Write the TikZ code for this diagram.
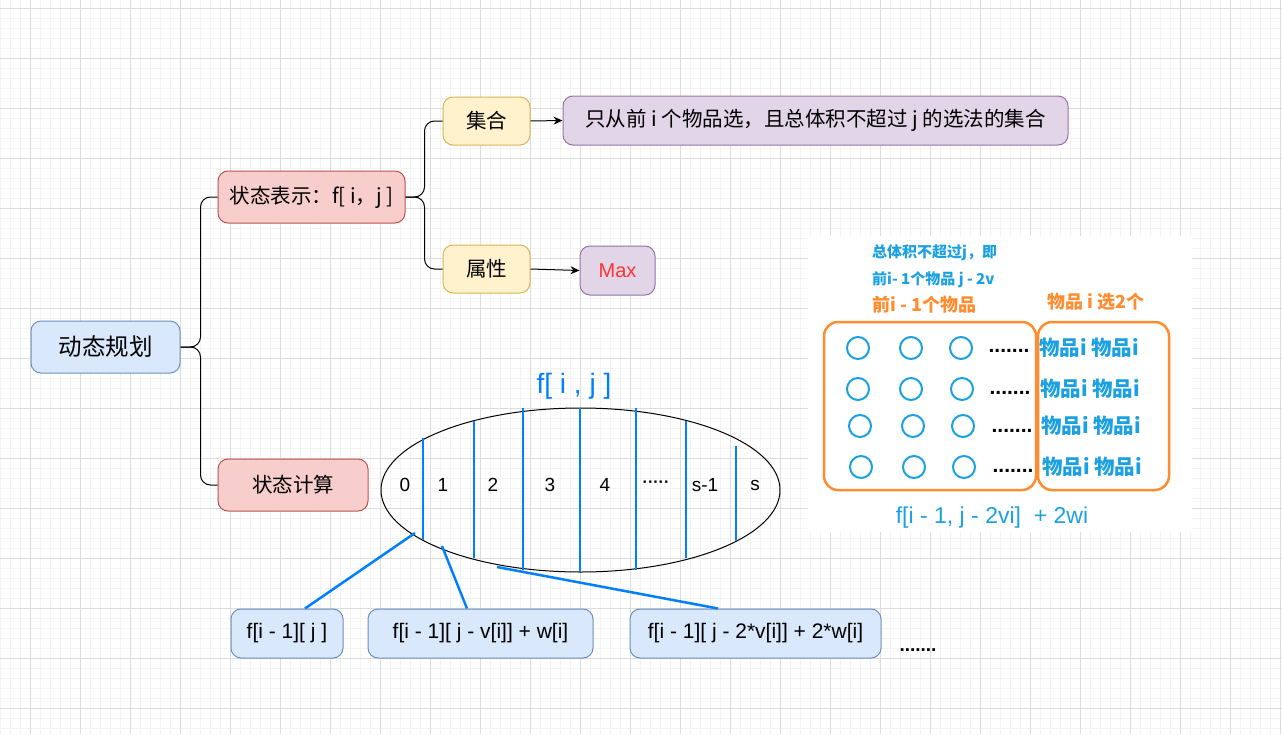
\documentclass[tikz,border=0pt]{standalone}
\usepackage{fontspec}
\setmainfont{Liberation Sans}
\newfontfamily\cjk{Noto Sans CJK SC}
\usetikzlibrary{shapes.geometric,arrows.meta}
\definecolor{bfill}{HTML}{DAE8FC}\definecolor{bstroke}{HTML}{6C8EBF}
\definecolor{rfill}{HTML}{F8CECC}\definecolor{rstroke}{HTML}{B85450}
\definecolor{yfill}{HTML}{FFF2CC}\definecolor{ystroke}{HTML}{D6B656}
\definecolor{pfill}{HTML}{E1D5E7}\definecolor{pstroke}{HTML}{9673A6}
\definecolor{eblue}{HTML}{007FFF}
\definecolor{cblue}{HTML}{1BA1E2}
\definecolor{orng}{HTML}{FF8C2E}
\definecolor{gmin}{HTML}{F3F3F3}
\definecolor{gmaj}{HTML}{DCDCDC}
\definecolor{maxred}{HTML}{FF3333}
\tikzset{
  box/.style={draw, rounded corners=10pt, line width=1pt, inner sep=0pt, align=center, font=\cjk\fontsize{20.5}{24}\selectfont},
  bluebox/.style={box, fill=bfill, draw=bstroke},
  redbox/.style={box, fill=rfill, draw=rstroke},
  yelbox/.style={box, fill=yfill, draw=ystroke},
  purbox/.style={box, fill=pfill, draw=pstroke},
  latin/.style={font=\fontsize{21}{25}\selectfont},
  conn/.style={draw=black, line width=1pt, rounded corners=10pt},
  arr/.style={draw=black, line width=1pt, -{Stealth[length=9pt,width=8pt]}},
  sep/.style={draw=eblue, line width=2.5pt},
  lab/.style={font=\fontsize{19}{22}\selectfont, inner sep=0pt},
  circ/.style={circle, draw=cblue, line width=2pt, minimum size=22pt, inner sep=0pt},
  obox/.style={draw=orng, line width=2.5pt, rounded corners=14pt},
  itm/.style={font=\cjk\bfseries\fontsize{20.5}{23}\selectfont, text=cblue, inner sep=0pt},
  dots/.style={font=\bfseries\fontsize{21}{24}\selectfont, inner sep=0pt},
}
\begin{document}
\begin{tikzpicture}[x=1pt,y=-1pt]
\useasboundingbox (0,0) rectangle (1282,734);
\fill[white] (0,0) rectangle (1282,734);
% grid
\foreach \x in {0,10,...,1280} \draw[gmin, line width=0.8pt] (\x,0) -- (\x,734);
\foreach \y in {8,18,...,734} \draw[gmin, line width=0.8pt] (0,\y) -- (1282,\y);
\foreach \x in {30,80,...,1280} \draw[gmaj, line width=0.8pt] (\x,0) -- (\x,734);
\foreach \y in {8,58,...,734} \draw[gmaj, line width=0.8pt] (0,\y) -- (1282,\y);
% inset panel background
\fill[white] (808,236) rectangle (1192,532);

% mind map
\node[bluebox, minimum width=149pt, minimum height=52pt, font=\cjk\fontsize{23.5}{27}\selectfont] (dt) at (105.5,347) {动态规划};
\node[redbox, minimum width=187pt, minimum height=52pt] (zt) at (311.5,197) {状态表示：f[ i，j ]};
\node[redbox, minimum width=150pt, minimum height=52pt] (js) at (293,485) {状态计算};
\node[yelbox, minimum width=87pt, minimum height=48pt] (jh) at (486.5,121) {集合};
\node[yelbox, minimum width=87pt, minimum height=48pt] (sx) at (486.5,269) {属性};
\node[purbox, minimum width=505pt, minimum height=49pt] (desc) at (815.5,120.5) {只从前 i 个物品选，且总体积不超过 j 的选法的集合};
\node[purbox, minimum width=75pt, minimum height=49pt, text=maxred, font=\fontsize{20}{24}\selectfont] (mx) at (617.5,270.5) {Max};

\draw[conn] (dt.east) -- ++(20,0) |- (zt.west);
\draw[conn] (dt.east) -- ++(20,0) |- (js.west);
\draw[conn] (zt.east) -- ++(19,0) |- (jh.west);
\draw[conn] (zt.east) -- ++(19,0) |- (sx.west);
\draw[arr] (jh.east) -- (desc.west);
\draw[arr] (sx.east) -- (mx.west);

% ellipse
\node[inner sep=0pt, text=eblue, font=\fontsize{28}{32}\selectfont] (ftitle) at (574,386) {f[ i , j ]};
\node[ellipse, draw=black, line width=1pt, minimum width=399pt, minimum height=164pt, inner sep=0pt] (ell) at (580.5,490) {};
\draw[sep] (423,438) -- (423,540);
\draw[sep] (474,421) -- (474,558);
\draw[sep] (523,408) -- (523,570);
\draw[sep] (580,408) -- (580,572);
\draw[sep] (636,408) -- (636,570);
\draw[sep] (686,421) -- (686,558);
\draw[sep] (736,446) -- (736,541);
\node[lab] (c0) at (405,485) {0};
\node[lab] (c1) at (443,485) {1};
\node[lab] (c2) at (493,485) {2};
\node[lab] (c3) at (550,485) {3};
\node[lab] (c4) at (605,485) {4};
\node[lab, font=\bfseries\fontsize{16}{19}\selectfont] (c5) at (656,484) {·····};
\node[lab] (c6) at (705,485) {s-1};
\node[lab] (c7) at (755,485) {s};

% bottom nodes
\node[bluebox, latin, minimum width=112pt, minimum height=49pt] (b1) at (287,633.5) {f[i - 1][ j ]};
\node[bluebox, latin, minimum width=225pt, minimum height=49pt] (b2) at (480.5,633.5) {f[i - 1][ j - v[i]] + w[i]};
\node[bluebox, latin, minimum width=251pt, minimum height=49pt] (b3) at (755.5,633.5) {f[i - 1][ j - 2*v[i]] + 2*w[i]};
\node[dots, font=\bfseries\fontsize{19}{22}\selectfont] (bdots) at (918,650) {.......};
\coordinate (e1) at (415,533);
\coordinate (e2) at (442,546);
\coordinate (e3) at (497,567);
\draw[sep] (e1) -- ([xshift=18pt]b1.north);
\draw[sep] (e2) -- ([xshift=-13.5pt]b2.north);
\draw[sep] (e3) -- ([xshift=-37.5pt]b3.north);

% right panel
\node[anchor=west, inner sep=0pt, text=cblue, font=\cjk\bfseries\fontsize{15}{17}\selectfont] (t1) at (872,253) {总体积不超过j，即};
\node[anchor=west, inner sep=0pt, text=cblue, font=\cjk\bfseries\fontsize{15}{17}\selectfont] (t2) at (872,280) {前i- 1个物品 j - 2v};
\node[anchor=west, inner sep=0pt, text=orng, font=\cjk\bfseries\fontsize{18}{20}\selectfont] (t3) at (872,305) {前i - 1个物品};
\node[inner sep=0pt, text=orng, font=\cjk\bfseries\fontsize{18}{20}\selectfont] (t4) at (1096,302) {物品 i 选2个};
\draw[obox] (824,322) rectangle (1036,490);
\draw[obox] (1038,322) rectangle (1169,490);
\foreach \yy/\xa/\xb/\xc/\n in {348/858/911/961/1, 389/858/911/962/2, 426/860/913/963/3, 467/861/914/964/4}{
  \node[circ] (ca\n) at (\xa,\yy) {};
  \node[circ] (cb\n) at (\xb,\yy) {};
  \node[circ] (cc\n) at (\xc,\yy) {};
}
\node[dots] (d1) at (1009,351) {.......};
\node[dots] (d2) at (1010,393) {.......};
\node[dots] (d3) at (1012,431) {.......};
\node[dots] (d4) at (1013,471) {.......};
\node[itm] (m1) at (1089,348) {物品i 物品i};
\node[itm] (m2) at (1090,389) {物品i 物品i};
\node[itm] (m3) at (1091,426) {物品i 物品i};
\node[itm] (m4) at (1092,467) {物品i 物品i};
\node[inner sep=0pt, text=cblue, font=\fontsize{23}{26}\selectfont] (fb) at (992,518) {f[i - 1, j - 2vi]\ \ + 2wi};
\end{tikzpicture}
\end{document}
